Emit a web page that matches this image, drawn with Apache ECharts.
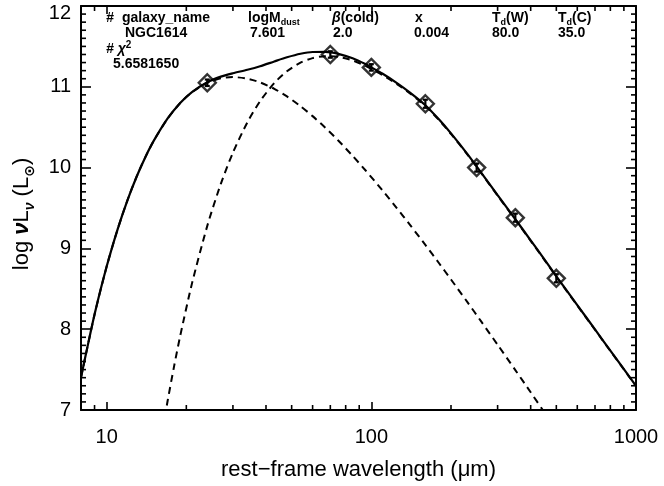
<!DOCTYPE html>
<html><head><meta charset="utf-8">
<script src="https://cdn.jsdelivr.net/npm/echarts@6/dist/echarts.min.js"></script>
<style>html,body{margin:0;padding:0;background:#fff}#c{width:664px;height:486px}</style>
</head><body><div id="c"></div>
<script>
// ---- data ----
const totalLambda = [8,9,10,11,12,13,14,15,17,19,21,24,27,30,34,38,43,48,54,60,67,75,85,95,100,110,125,140,160,180,200,230,260,300,350,400,450,500,600,700,800,900,1000];
const totalLog = [7.403,8.181,8.775,9.236,9.601,9.893,10.129,10.321,10.608,10.803,10.935,11.057,11.126,11.168,11.211,11.255,11.314,11.365,11.409,11.431,11.432,11.408,11.354,11.282,11.240,11.164,11.046,10.928,10.772,10.597,10.423,10.173,9.939,9.659,9.361,9.100,8.867,8.655,8.299,7.997,7.735,7.505,7.299];
const warmLambda = [8,9,10,11,12,13,14,15,17,19,21,24,27,30,34,38,43,48,54,60,67,75,85,95,110,125,140,160,180,200,230,260,300,350,400,450];
const warmLog = [7.403,8.181,8.775,9.236,9.601,9.893,10.129,10.321,10.608,10.802,10.933,11.050,11.105,11.120,11.101,11.055,10.975,10.881,10.760,10.637,10.494,10.335,10.145,9.967,9.721,9.496,9.291,9.043,8.819,8.615,8.341,8.096,7.808,7.494,7.219,6.974];
const coldLambda = [16,17,18,19,21,24,27,30,34,38,43,48,54,60,67,75,85,95,100,110,125,140,160,180,200,230,260,300,350,400,450,500,600,700,800,900,1000];
const coldLog = [6.616,7.114,7.549,7.930,8.564,9.279,9.799,10.185,10.559,10.822,11.047,11.192,11.299,11.355,11.379,11.370,11.326,11.260,11.220,11.148,11.034,10.918,10.764,10.590,10.416,10.167,9.933,9.653,9.355,9.094,8.861,8.650,8.294,7.993,7.732,7.502,7.296];
const obsLambda = [24,70,100,160,250,350,500];
const obsLog = [11.05,11.40,11.24,10.79,10.00,9.38,8.63];
const obsErr = [0.04,0.04,0.04,0.05,0.05,0.05,0.05];
const xMin = 8, xMax = 1000, yMin = 7, yMax = 12;
const xTickLabels = [10,100,1000];
const yTickLabels = [7,8,9,10,11,12];
const xMinorTicks = [9,20,30,40,50,60,70,80,90,200,300,400,500,600,700,800,900];
const yMinorTicks = [7.1,7.2,7.3,7.4,7.5,7.6,7.7,7.8,7.9,
  8.1,8.2,8.3,8.4,8.5,8.6,8.7,8.8,8.9,
  9.1,9.2,9.3,9.4,9.5,9.6,9.7,9.8,9.9,
  10.1,10.2,10.3,10.4,10.5,10.6,10.7,10.8,10.9,
  11.1,11.2,11.3,11.4,11.5,11.6,11.7,11.8,11.9];
const headerNames = ['galaxy_name','logM','β','x','T','T'];
const headerValues = ['NGC1614','7.601','2.0','0.004','80.0','35.0'];
const chiValue = '5.6581650';

const FONT = '"Liberation Sans", Arial, "DejaVu Sans", sans-serif';
const zip = (a,b) => a.map((v,i)=>[v,b[i]]);

const chart = echarts.init(document.getElementById('c'), null, {renderer:'canvas'});

const axisCommon = {
  axisLine:{show:true,onZero:false,lineStyle:{color:'#000',width:2}},
  splitLine:{show:false}
};

const hdrSize = 14, subSize = 9;
const base = {fontSize:hdrSize, fontFamily:FONT, color:'#000', lineHeight:18, verticalAlign:'middle', fontWeight:'bold'};
const rich = {
  n: base,
  gi: Object.assign({}, base, {fontStyle:'italic', fontWeight:'bold'}),
  sub: {fontSize:subSize, fontFamily:FONT, color:'#000', lineHeight:18, verticalAlign:'bottom', fontWeight:'bold'},
  sup: {fontSize:subSize+1, fontFamily:FONT, color:'#000', lineHeight:18, verticalAlign:'top', fontWeight:'bold'},
  hash: Object.assign({}, base, {fontStyle:'italic', fontWeight:'bold'})
};
function T(x, y, text){
  return {type:'text', x:x, y:y, silent:true,
    style:{text:text, rich:rich, align:'left', verticalAlign:'middle', fontSize:hdrSize, fontFamily:FONT, fill:'#000'}};
}
const r1 = 18, r2 = 33, r3 = 49, r4 = 64;
const graphics = [
  T(106, r1, '{hash|#}'),
  T(122, r1, '{n|' + headerNames[0] + '}'),
  T(248, r1, '{n|' + headerNames[1] + '}{sub|dust}'),
  T(332, r1, '{gi|' + headerNames[2] + '}{n|(cold)}'),
  T(415, r1, '{n|' + headerNames[3] + '}'),
  T(492, r1, '{n|' + headerNames[4] + '}{sub|d}{n|(W)}'),
  T(558, r1, '{n|' + headerNames[5] + '}{sub|d}{n|(C)}'),
  T(125, r2, '{n|' + headerValues[0] + '}'),
  T(250, r2, '{n|' + headerValues[1] + '}'),
  T(333, r2, '{n|' + headerValues[2] + '}'),
  T(414, r2, '{n|' + headerValues[3] + '}'),
  T(492, r2, '{n|' + headerValues[4] + '}'),
  T(558, r2, '{n|' + headerValues[5] + '}'),
  T(106, r3, '{hash|#} {gi|χ}{sup|2}'),
  T(113, r4, '{n|' + chiValue + '}'),
  {type:'text', x:22, y:214, rotation:Math.PI/2, silent:true,
   style:{text:'{a|log }{g|ν}{a|L}{s|ν}{a| (L}{s|⊙}{a|)}', align:'center', verticalAlign:'middle',
     rich:{
       a:{fontSize:22, fontFamily:FONT, color:'#000', lineHeight:30, verticalAlign:'middle'},
       g:{fontSize:22, fontFamily:FONT, color:'#000', lineHeight:30, verticalAlign:'middle', fontStyle:'italic', fontWeight:'bold'},
       s:{fontSize:14, fontFamily:FONT, color:'#000', lineHeight:30, verticalAlign:'bottom', fontStyle:'italic', fontWeight:'bold'}
     }}}
];

const tickStyle = {color:'#000', width:1.6};
const option = {
  animation:false,
  backgroundColor:'#fff',
  grid:{left:81, right:28, top:6, bottom:71, containLabel:false},
  xAxis:[
    Object.assign({}, axisCommon, {
      type:'log', logBase:10, min:xMin, max:xMax, position:'bottom',
      axisTick:{show:true, inside:true, length:8, lineStyle:tickStyle},
      axisLabel:{show:true, fontSize:20, fontFamily:FONT, color:'#000', margin:17, showMinLabel:false,
        formatter:(v)=>{const r=Math.round(v); return xTickLabels.indexOf(r)>=0 ? String(r) : '';}},
      name:'rest\u2212frame wavelength (μm)', nameLocation:'middle', nameGap:49,
      nameTextStyle:{fontSize:22, fontFamily:FONT, color:'#000'}
    }),
    Object.assign({}, axisCommon, {
      type:'log', logBase:10, min:xMin, max:xMax, position:'top',
      axisTick:{show:true, inside:true, length:8, lineStyle:tickStyle},
      axisLabel:{show:false}
    })
  ],
  yAxis:[
    Object.assign({}, axisCommon, {
      type:'value', min:yMin, max:yMax, interval:1, position:'left',
      axisTick:{show:true, inside:true, length:10, lineStyle:tickStyle},
      axisLabel:{show:true, fontSize:20, fontFamily:FONT, color:'#000', margin:10,
        formatter:(v)=>{const r=Math.round(v); if (yTickLabels.indexOf(r)<0) return ''; return r===yMax ? '{t|'+r+'}' : String(r);},
        rich:{t:{fontSize:20, fontFamily:FONT, color:'#000', padding:[14,0,0,0]}}}
    }),
    Object.assign({}, axisCommon, {
      type:'value', min:yMin, max:yMax, interval:1, position:'right',
      axisTick:{show:true, inside:true, length:10, lineStyle:tickStyle},
      axisLabel:{show:false}
    })
  ],
  series:[
    {type:'line', name:'warm', data:zip(warmLambda, warmLog), smooth:0.25, showSymbol:false, clip:true,
      lineStyle:{color:'#000', width:2, type:[7,5]}, z:2},
    {type:'line', name:'cold', data:zip(coldLambda, coldLog), smooth:0.25, showSymbol:false, clip:true,
      lineStyle:{color:'#000', width:2, type:[7,5]}, z:2},
    {type:'line', name:'total', data:zip(totalLambda, totalLog), smooth:0.25, showSymbol:false, clip:true,
      lineStyle:{color:'#000', width:2.2}, z:3},
    {type:'scatter', name:'obs', data:zip(obsLambda, obsLog),
      symbol:'path://M0,-10 L10,0 L0,10 L-10,0 Z', symbolSize:17,
      itemStyle:{color:'rgba(0,0,0,0)', borderColor:'#000', borderWidth:2.4}, z:4},
    {type:'custom', name:'err', coordinateSystem:'cartesian2d', data:obsLambda.map((v,i)=>[v, obsLog[i], obsErr[i]]), z:5,
      encode:{x:0, y:1},
      renderItem:function(params, api){
        const x = api.value(0), y = api.value(1), e = api.value(2);
        const lo = api.coord([x, y - e]), hi = api.coord([x, y + e]);
        const st = {stroke:'#000', lineWidth:2.2};
        return {type:'group', children:[
          {type:'line', shape:{x1:lo[0], y1:lo[1], x2:hi[0], y2:hi[1]}, style:st},
          {type:'line', shape:{x1:lo[0]-2.5, y1:lo[1], x2:lo[0]+2.5, y2:lo[1]}, style:st},
          {type:'line', shape:{x1:hi[0]-2.5, y1:hi[1], x2:hi[0]+2.5, y2:hi[1]}, style:st}
        ]};
      }},
    {type:'custom', name:'minorX', coordinateSystem:'cartesian2d', data:xMinorTicks.map(v=>[v, yMin]), z:6, clip:false,
      encode:{x:0, y:1},
      renderItem:function(params, api){
        const v = api.value(0);
        const b = api.coord([v, yMin]), t = api.coord([v, yMax]);
        const st = {stroke:'#000', lineWidth:1.6};
        return {type:'group', children:[
          {type:'line', shape:{x1:b[0], y1:b[1], x2:b[0], y2:b[1]-5}, style:st},
          {type:'line', shape:{x1:t[0], y1:t[1], x2:t[0], y2:t[1]+5}, style:st}
        ]};
      }},
    {type:'custom', name:'minorY', coordinateSystem:'cartesian2d', data:yMinorTicks.map(v=>[xMin, v]), z:6, clip:false,
      encode:{x:0, y:1},
      renderItem:function(params, api){
        const v = api.value(1);
        const l = api.coord([xMin, v]), r = api.coord([xMax, v]);
        const st = {stroke:'#000', lineWidth:1.6};
        return {type:'group', children:[
          {type:'line', shape:{x1:l[0], y1:l[1], x2:l[0]+5, y2:l[1]}, style:st},
          {type:'line', shape:{x1:r[0], y1:r[1], x2:r[0]-5, y2:r[1]}, style:st}
        ]};
      }}
  ],
  graphic: graphics
};
chart.setOption(option);
</script>
</body></html>
